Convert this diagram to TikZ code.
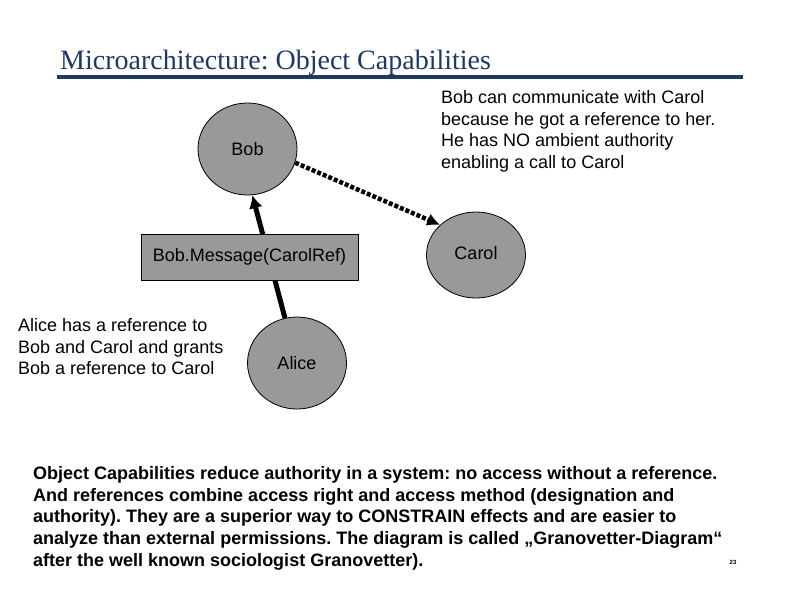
\documentclass[tikz,border=0pt]{standalone}
\usepackage{fontspec}
\setmainfont{Liberation Serif}
\setsansfont{Liberation Sans}
\usepackage{xcolor}
\usepackage{tikz}
\usetikzlibrary{arrows.meta,shapes.geometric}
\definecolor{figline}{RGB}{0,0,0}
\definecolor{figfill}{RGB}{153,153,153}
\definecolor{figtitle}{RGB}{31,56,100}
\tikzset{
  obj/.style    ={ellipse, draw=figline, fill=figfill, line width=0.8pt, inner sep=0pt,
                  minimum width=99pt, minimum height=92pt, font=\sffamily\fontsize{18}{21.8}\selectfont},
  msgbox/.style ={rectangle, draw=figline, fill=figfill, line width=0.8pt, inner sep=0pt,
                  minimum width=217pt, minimum height=46pt, font=\sffamily\fontsize{18}{21.8}\selectfont},
  lab/.style    ={font=\sffamily\fontsize{18}{21.8}\selectfont, align=left, inner sep=0pt, anchor=north west},
  labb/.style   ={font=\sffamily\bfseries\fontsize{18}{21.8}\selectfont, align=left, inner sep=0pt, anchor=north west},
  ptr/.style    ={draw=figline, line width=5pt, -{Latex[length=13pt,width=14pt]}},
  ptrd/.style   ={draw=figline, line width=4.5pt, dash pattern=on 4pt off 2pt, -{Latex[length=13pt,width=13pt]}},
}
\begin{document}
\frenchspacing
\begin{tikzpicture}[x=1pt,y=-1pt]
  \useasboundingbox[fill=white] (0,0) rectangle (792,594);
  % title
  \node[font=\fontsize{28}{30}\selectfont, text=figtitle, anchor=base west, inner sep=0pt] (title) at (60,70) {Microarchitecture: Object Capabilities};
  \draw[draw=figtitle, line width=4pt] (57,77) -- (743,77);
  % objects
  \node[obj] (bob) at (247.5,149) {Bob};
  \node[obj, minimum height=86pt] (carol) at (476,255) {\raisebox{5pt}{Carol}};
  \node[obj] (alice) at (297,363) {Alice};
  \draw[ptrd] (bob.-16) -- (carol.140);
  \draw[ptr] (alice.105) -- (bob.-84);
  \node[msgbox] (msg) at (249.5,257) {Bob.Message(CarolRef)};
  % texts
  \node[lab] (note) at (441,90) {Bob can communicate with Carol\\because he got a reference to her.\\He has NO ambient authority\\enabling a call to Carol};
  \node[lab] (alicenote) at (18,318) {Alice has a reference to\\Bob and Carol and grants\\Bob a reference to Carol};
  \node[labb] (summary) at (33,466) {Object Capabilities reduce authority in a system: no access without a reference.\\And references combine access right and access method (designation and\\authority). They are a superior way to CONSTRAIN effects and are easier to\\analyze than external permissions. The diagram is called „Granovetter-Diagram“\\after the well known sociologist Granovetter).};
  \node[font=\sffamily\bfseries\fontsize{6}{7}\selectfont, inner sep=0pt] (page) at (733,562) {23};
\end{tikzpicture}
\end{document}
